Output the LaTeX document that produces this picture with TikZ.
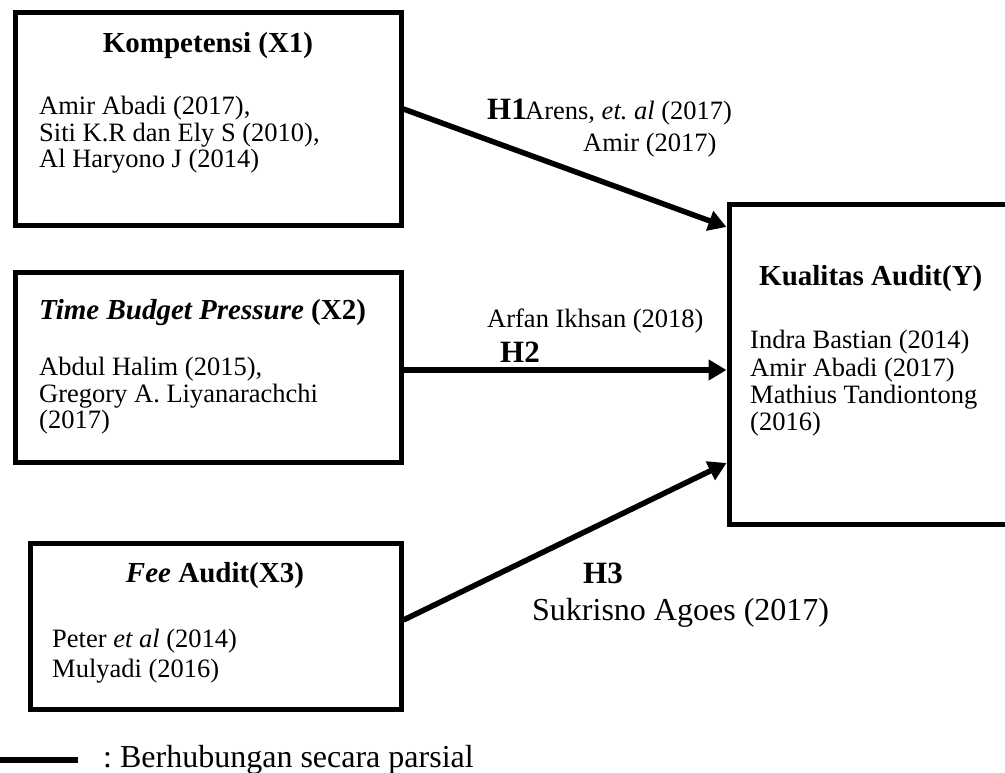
\documentclass[tikz,border=0pt]{standalone}
\usepackage{fontspec}
\setmainfont{Liberation Serif}
\usetikzlibrary{arrows.meta}
\frenchspacing
\begin{document}
\begin{tikzpicture}[x=1pt,y=-1pt,
  box/.style={draw=black, line width=5pt, inner sep=0pt, anchor=north west},
  arr/.style={line width=5.5pt, -{Triangle[length=18pt,width=20pt]}},
  txt/.style={inner sep=0pt, anchor=base west, font=\fontsize{26.5}{30}\selectfont},
  ttl/.style={inner sep=0pt, font=\bfseries\fontsize{29}{32}\selectfont},
  hl/.style={inner sep=0pt, anchor=base west, font=\bfseries\fontsize{31}{34}\selectfont},
  big/.style={inner sep=0pt, anchor=base west, font=\fontsize{32}{36}\selectfont}]
\useasboundingbox (0,0) rectangle (1005,773);

% boxes
\node[box, minimum width=385.5pt, minimum height=213.5pt] (x1) at (13,10) {};
\node[box, minimum width=385.5pt, minimum height=190pt] (x2) at (13,269.5) {};
\node[box, minimum width=371pt, minimum height=166pt] (x3) at (27.5,540.5) {};
\node[box, minimum width=281pt, minimum height=319pt] (y) at (726.5,202.5) {};

% X1 texts
\node[ttl, anchor=base] (x1t) at (208,53) {Kompetensi (X1)};
\node[txt] (x1a) at (39,115) {Amir Abadi (2017),};
\node[txt] (x1b) at (39,142) {Siti K.R dan Ely S (2010),};
\node[txt] (x1c) at (39,168) {Al Haryono J (2014)};

% X2 texts
\node[ttl, anchor=base west] (x2t) at (39,319) {\textit{Time Budget Pressure} (X2)};
\node[txt] (x2a) at (39,375) {Abdul Halim (2015),};
\node[txt] (x2b) at (39,402) {Gregory A. Liyanarachchi};
\node[txt] (x2c) at (39,428) {(2017)};

% X3 texts
\node[ttl, anchor=base] (x3t) at (215,582) {\textit{Fee} Audit(X3)};
\node[txt] (x3a) at (52,647) {Peter \textit{et al} (2014)};
\node[txt] (x3b) at (52,677) {Mulyadi (2016)};

% Y texts
\node[ttl, anchor=base west] (yt) at (759,285) {Kualitas Audit(Y)};
\node[txt] (ya) at (750,348) {Indra Bastian (2014)};
\node[txt] (yb) at (750,376) {Amir Abadi (2017)};
\node[txt] (yc) at (750,403) {Mathius Tandiontong};
\node[txt] (yd) at (750,430) {(2016)};

% arrows
\draw[arr] ([yshift=10.25pt]x1.east) -- ([yshift=137.5pt]y.west);
\draw[arr] ([yshift=-3pt]x2.east) -- ([yshift=-5.5pt]y.west);
\draw[arr] ([yshift=6pt]x3.east) -- ([yshift=-98.5pt]y.west);

% arrow labels
\node[hl] (h1) at (487,120) {H1};
\node[txt] (h1a) at (525,120) {Arens, \textit{et. al} (2017)};
\node[txt] (h1b) at (583,152) {Amir (2017)};
\node[txt] (h2a) at (487,327) {Arfan Ikhsan (2018)};
\node[hl] (h2) at (500,362) {H2};
\node[hl] (h3) at (583,583) {H3};
\node[big] (h3a) at (532,620) {Sukrisno Agoes (2017)};

% legend
\coordinate (lg1) at (0,760);
\coordinate (lg2) at (78,760);
\draw[line width=6pt] (lg1) -- (lg2);
\node[big] (lgt) at (103,767) {: Berhubungan secara parsial};
\end{tikzpicture}
\end{document}
